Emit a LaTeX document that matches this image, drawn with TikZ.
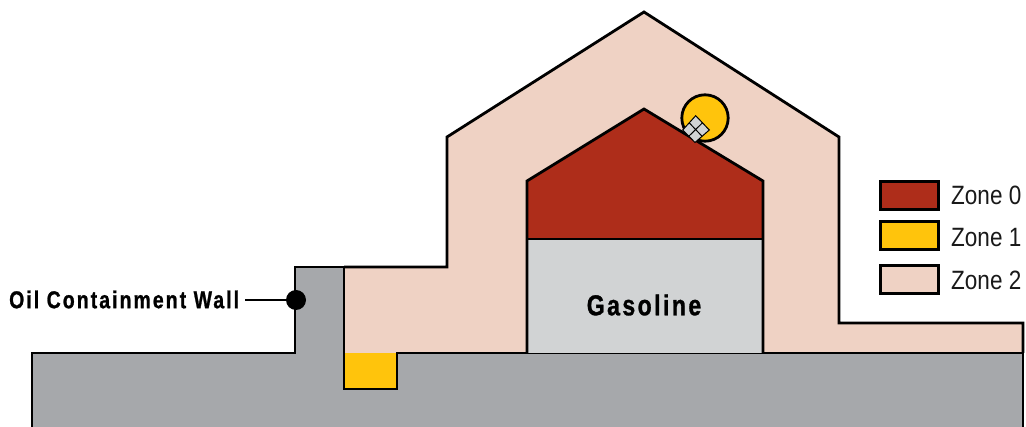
\documentclass[tikz,border=0pt]{standalone}
\usepackage{fontspec}
\setmainfont[FakeStretch=0.85]{Liberation Sans}
\newfontfamily\boldlabel[FakeStretch=0.8,LetterSpace=8.5,FakeBold=1]{Liberation Sans Bold}
\definecolor{zonered}{HTML}{AE2D1A}
\definecolor{zoneyellow}{HTML}{FFC40C}
\definecolor{zonepeach}{HTML}{EFD2C4}
\definecolor{wallgray}{HTML}{A6A8AB}
\definecolor{tankgray}{HTML}{D1D3D4}
\tikzset{
  outline/.style={draw=black,line width=2.8pt,line join=miter},
  swatch/.style={outline,minimum width=58pt,minimum height=28pt,inner sep=0pt,outer sep=0pt},
  zonetext/.style={anchor=west,inner sep=0pt,font=\fontsize{26.5}{27}\selectfont,text=black!90},
  boldtext/.style={inner sep=0pt,font=\boldlabel\fontsize{24.3}{25}\selectfont}
}
\begin{document}
\begin{tikzpicture}[x=1pt,y=-1pt]
\useasboundingbox (0,0) rectangle (1026,427);
% Zone 2 envelope
\path[fill=zonepeach] (344,267) -- (447,267) -- (447,137) -- (644,12) -- (839,137) -- (839,323) -- (1023,323) -- (1023,353) -- (344,353) -- cycle;
\draw[outline] (344,267) -- (447,267) -- (447,137) -- (644,12) -- (839,137) -- (839,323) -- (1023,323) -- (1023,353);
% Floor and wall
\path[fill=wallgray] (32,427) -- (32,353) -- (295,353) -- (295,267) -- (344,267) -- (344,389) -- (397,389) -- (397,353) -- (1023,353) -- (1023,427) -- cycle;
% Zone 1 sump
\path[fill=zoneyellow] (344,353) rectangle (397,389);
\draw[outline] (32,427) -- (32,353) -- (295,353) -- (295,267) -- (344,267) -- (344,389) -- (397,389) -- (397,353) -- (1023,353) -- (1023,427);
% Vent circle
\draw[outline,fill=zoneyellow] (705,118) circle (23.2);
% Tank
\path[fill=tankgray] (527,239) rectangle (763,353);
\path[fill=zonered] (527,239) -- (527,181) -- (644,109) -- (763,181) -- (763,239) -- cycle;
\draw[outline] (527,353) -- (527,181) -- (644,109) -- (763,181) -- (763,353);
\draw[outline] (527,239) -- (763,239);
% Vent
\draw[draw=black,line width=1pt,fill=tankgray] (695.7,115.7) -- (709.3,130) -- (695,142.5) -- (682.7,130) -- cycle;
\draw[draw=black,line width=1pt] (689.2,122.8) -- (702,136.2);
\draw[draw=black,line width=1pt] (702.5,122.8) -- (688.8,136.2);
% Callout
\node[boldtext,anchor=west] (walllabel) at (9,299.5) {Oil Containment Wall};
\node[circle,fill=black,minimum size=20pt,inner sep=0pt] (walldot) at (296,300) {};
\coordinate (leadstart) at (245,300);
\draw[line width=2.8pt] (leadstart) -- (walldot);
\node[boldtext,font=\boldlabel\fontsize{28.8}{29}\selectfont] (gasoline) at (644,305) {Gasoline};
% Legend
\node[swatch,fill=zonered] (sw0) at (909.6,195.4) {};
\node[swatch,fill=zoneyellow] (sw1) at (909.6,235.8) {};
\node[swatch,fill=zonepeach] (sw2) at (909.6,279.8) {};
\node[zonetext] (z0) at (951,195.5) {Zone 0};
\node[zonetext] (z1) at (951,237.5) {Zone 1};
\node[zonetext] (z2) at (951,280) {Zone 2};
\end{tikzpicture}
\end{document}
